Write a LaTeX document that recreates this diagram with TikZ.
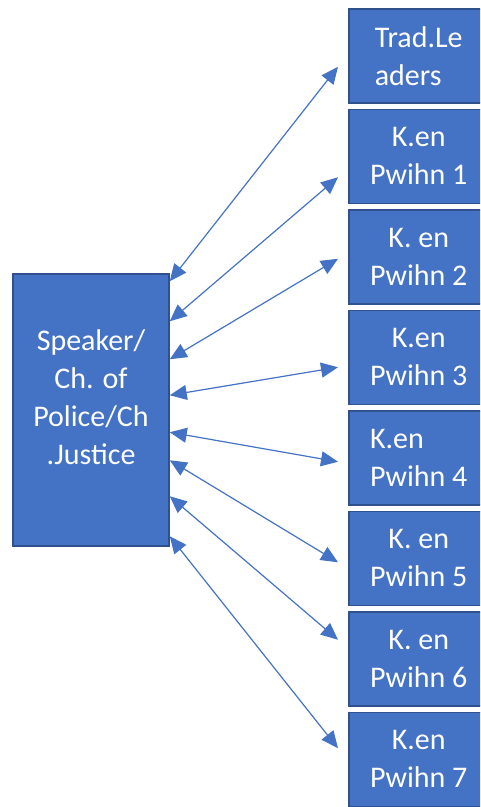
\documentclass[tikz,border=0pt]{standalone}
\usepackage{fontspec}
\setmainfont{Carlito}
\usetikzlibrary{positioning,arrows.meta}
\definecolor{boxblue}{HTML}{4472C4}
\definecolor{boxedge}{HTML}{2F528F}

\begin{document}
\begin{tikzpicture}[x=1pt,y=1pt,
        font=\fontsize{30}{38}\selectfont,
        office/.style={draw=boxedge,line width=1.5pt,fill=boxblue,text=white,align=center,inner sep=0pt},
        kbox/.style={office,minimum width=140pt,minimum height=94pt},
        link/.style={draw=boxblue,line width=1.2pt,{Triangle[length=17pt,width=15pt]}-{Triangle[length=17pt,width=15pt]}}]

    \useasboundingbox (0,0) rectangle (480,-807);
    \clip (0,0) rectangle (480,-807);

    \node[office,minimum width=156pt,minimum height=272pt,
          label={[text=white,align=center,yshift=13pt]center:Speaker/\\Ch. of\\Police/Ch\\.Justice}] (spk) at (91,-410) {};

    \node[kbox,align=left,anchor=north west] (lead) at (348,-8) {Trad.Le\\aders};
    \node[kbox,below=5pt of lead] (k1) {K.en\\Pwihn 1};
    \node[kbox,below=5pt of k1] (k2) {K. en\\Pwihn 2};
    \node[kbox,below=5pt of k2] (k3) {K.en\\Pwihn 3};
    \node[kbox,align=left,below=5pt of k3] (k4) {K.en\\Pwihn 4};
    \node[kbox,below=5pt of k4] (k5) {K. en\\Pwihn 5};
    \node[kbox,below=5pt of k5] (k6) {K. en\\Pwihn 6};
    \node[kbox,below=5pt of k6] (k7) {K.en\\Pwihn 7};

    \foreach \n/\a/\b in {lead/8/-11,k1/48/-21,k2/86/-2,k3/122/-10,k4/159/-4,k5/187/-4,k6/223/19,k7/263/11}
        \draw[link] ([yshift=-\a pt]spk.north east) -- ([xshift=-10pt,yshift=\b pt]\n.west);
\end{tikzpicture}
\end{document}
